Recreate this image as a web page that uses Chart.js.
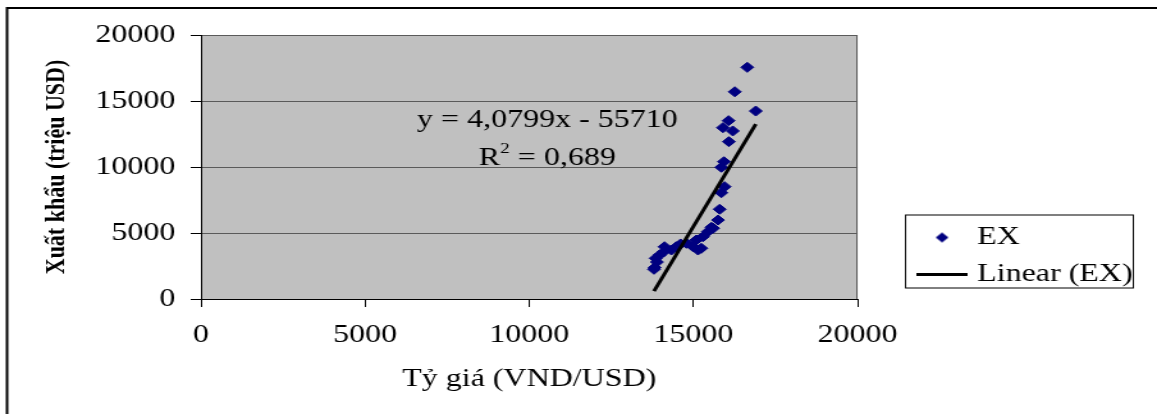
<!DOCTYPE html>
<html>
<head>
<meta charset="utf-8">
<script src="https://cdn.jsdelivr.net/npm/chart.js@4"></script>
<style>
  html, body { margin: 0; padding: 0; background: #fff; }
  /* the original picture is stretched sideways, so the canvas is drawn narrower and widened by css */
  #chart { display: block; width: 1157px !important; height: 414px !important; }
</style>
</head>
<body>
<canvas id="chart" width="904" height="414" style="width:1157px;height:414px"></canvas>
<script>
// exchange rate (VND/USD) on x, exports (million USD) on y
const exRate = [13800, 13820, 13850, 13890, 13970, 14090, 14120, 14330, 14480, 14610,
                14790, 14990, 15090, 15140, 15240, 15290, 15440, 15550, 15600, 15750,
                15800, 15850, 15950, 15850, 15930, 16080, 15900, 16070, 16200, 16900,
                16260, 16640];
const exportVal = [2250, 2380, 3080, 2800, 3330, 3560, 3960, 3710, 3960, 4170,
                   4220, 3960, 4470, 3710, 3840, 4720, 5100, 5430, 5360, 5980,
                   6800, 8050, 8510, 9980, 10400, 11920, 12980, 13510, 12730, 14240,
                   15700, 17550];

const xTicks = [0, 5000, 10000, 15000, 20000];
const yTicks = [0, 5000, 10000, 15000, 20000];

const seriesNames = ['EX', 'Linear (EX)'];
const xTitle = 'Tỷ giá (VND/USD)';
const yTitle = 'Xuất khẩu (triệu USD)';

// trendline as given in the chart label
const slope = 4.0799;
const intercept = -55710;
const eqText = 'y = 4,0799x - 55710';
const r2Text = '0,689';

const serif = "'Liberation Serif', 'Times New Roman', serif";
const navy = '#000080';

const points = exRate.map((x, i) => ({ x: x, y: exportVal[i] }));
const xMin = Math.min(...exRate), xMax = Math.max(...exRate);
const trend = [xMin, xMax].map(x => ({ x: x, y: slope * x + intercept }));

// little pictures for the legend markers
function diamondIcon() {
  const c = document.createElement('canvas');
  c.width = 12; c.height = 12;
  const g = c.getContext('2d');
  g.fillStyle = navy;
  g.beginPath();
  g.moveTo(1, 6); g.lineTo(6, 1); g.lineTo(11, 6); g.lineTo(6, 11);
  g.closePath(); g.fill();
  return c;
}
function lineIcon() {
  const c = document.createElement('canvas');
  c.width = 40; c.height = 3;
  const g = c.getContext('2d');
  g.fillStyle = '#000';
  g.fillRect(0, 0, 40, 3);
  return c;
}

const decor = {
  id: 'decor',
  beforeLayout(chart) {
    // chart.js caps side boxes at a share of the width, the legend needs a bit more
    const lg = chart.legend;
    if (lg && !lg._wide) {
      const fit = lg.fit;
      lg.fit = function () { this.maxWidth = 400; fit.call(this); };
      lg._wide = true;
    }
  },
  beforeDraw(chart) {
    const { ctx, chartArea: a } = chart;
    ctx.save();
    ctx.fillStyle = '#c0c0c0';
    ctx.fillRect(a.left, a.top, a.right - a.left, a.bottom - a.top);
    ctx.restore();
  },
  afterDraw(chart) {
    const { ctx, chartArea: a } = chart;
    ctx.save();
    // right edge of the plot
    ctx.strokeStyle = '#5a5a5a';
    ctx.lineWidth = 1;
    ctx.beginPath();
    ctx.moveTo(a.right - 0.5, a.top);
    ctx.lineTo(a.right - 0.5, a.bottom);
    ctx.stroke();

    // outer frame, right and bottom sides fall off the picture
    ctx.strokeStyle = '#000';
    ctx.lineWidth = 2;
    ctx.strokeRect(5.5, 8, chart.width + 40, chart.height + 40);

    // legend frame
    const hb = chart.legend.legendHitBoxes;
    if (hb && hb.length) {
      const first = hb[0], last = hb[hb.length - 1];
      const right = Math.max(...hb.map(h => h.left + h.width));
      ctx.lineWidth = 1;
      ctx.strokeStyle = '#000';
      ctx.strokeRect(first.left - 14 + 0.5, first.top - 10.5 + 0.5,
                     right - first.left + 14, last.top + last.height + 11 - first.top);
    }

    // trendline equation
    const ex = chart.scales.x.getPixelForValue(10550);
    const ey = chart.scales.y.getPixelForValue(13000);
    const big = '25px ' + serif, small = '15px ' + serif;
    ctx.fillStyle = '#000';
    ctx.textBaseline = 'alphabetic';
    ctx.font = big;
    ctx.textAlign = 'center';
    ctx.fillText(eqText, ex, ey);

    const ry = ey + 38;
    const rest = ' = ' + r2Text;
    const wR = ctx.measureText('R').width;
    const wRest = ctx.measureText(rest).width;
    ctx.font = small;
    const w2 = ctx.measureText('2').width;
    let cx = ex - (wR + w2 + wRest) / 2;
    ctx.textAlign = 'left';
    ctx.font = big;
    ctx.fillText('R', cx, ry); cx += wR;
    ctx.font = small;
    ctx.fillText('2', cx, ry - 12); cx += w2;
    ctx.font = big;
    ctx.fillText(rest, cx, ry);
    ctx.restore();
  }
};

const myChart = new Chart(document.getElementById('chart'), {
  type: 'scatter',
  data: {
    datasets: [
      {
        label: seriesNames[0],
        data: points,
        order: 1,
        pointStyle: 'rectRot',
        pointRadius: 5,
        pointHoverRadius: 5,
        backgroundColor: navy,
        borderColor: navy,
        borderWidth: 1
      },
      {
        label: seriesNames[1],
        data: trend,
        order: 0,
        showLine: true,
        pointRadius: 0,
        borderColor: '#000',
        borderWidth: 3,
        fill: false
      }
    ]
  },
  options: {
    responsive: false,
    devicePixelRatio: 1,
    animation: false,
    events: [],
    layout: { padding: { top: 35, left: 0, right: 9, bottom: 0 } },
    scales: {
      x: {
        type: 'linear',
        min: xTicks[0],
        max: xTicks[xTicks.length - 1],
        afterBuildTicks: s => { s.ticks = xTicks.map(v => ({ value: v })); },
        afterFit: s => { s.height = 115; },
        ticks: {
          color: '#000',
          font: { family: serif, size: 25 },
          padding: 13,
          maxRotation: 0,
          autoSkip: false,
          callback: v => String(v)
        },
        grid: { drawOnChartArea: false, tickLength: 8, tickColor: '#000' },
        border: { color: '#000', width: 1 },
        title: {
          display: true,
          text: xTitle,
          color: '#000',
          font: { family: serif, size: 25 },
          padding: { top: 0, bottom: 20 }
        }
      },
      y: {
        type: 'linear',
        min: yTicks[0],
        max: yTicks[yTicks.length - 1],
        afterBuildTicks: s => { s.ticks = yTicks.map(v => ({ value: v })); },
        afterFit: s => { s.width = 157; },
        ticks: {
          color: '#000',
          font: { family: serif, size: 25 },
          padding: 12,
          callback: v => String(v)
        },
        grid: { color: '#5a5a5a', tickLength: 8, tickColor: '#000' },
        border: { color: '#000', width: 1 },
        title: {
          display: true,
          text: yTitle,
          color: '#000',
          font: { family: serif, size: 22, weight: 'bold' },
          padding: { top: 31, bottom: 0 }
        }
      },
      // empty axis that only keeps a gap between the plot and the legend
      y2: {
        type: 'linear',
        position: 'right',
        display: true,
        afterFit: s => { s.width = 39; },
        grid: { display: false },
        border: { display: false },
        ticks: { display: false }
      }
    },
    plugins: {
      tooltip: { enabled: false },
      legend: {
        position: 'right',
        align: 'end',
        fullSize: false,
        labels: {
          usePointStyle: true,
          pointStyleWidth: 30,
          boxHeight: 25,
          padding: 12,
          color: '#000',
          font: { family: serif, size: 25 },
          generateLabels: () => [
            { text: seriesNames[0], pointStyle: diamondIcon(), fontColor: '#000', lineWidth: 0, hidden: false, datasetIndex: 0 },
            { text: seriesNames[1], pointStyle: lineIcon(), fontColor: '#000', lineWidth: 0, hidden: false, datasetIndex: 1 }
          ]
        }
      }
    }
  },
  plugins: [decor]
});
</script>
</body>
</html>
